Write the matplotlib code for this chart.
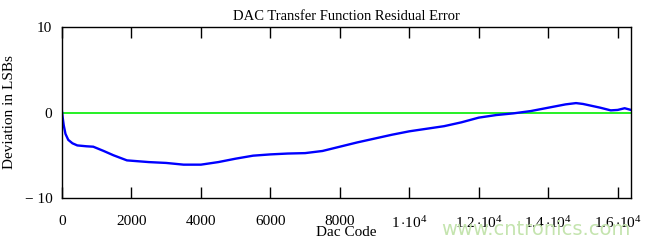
import numpy as np
import matplotlib
matplotlib.use('Agg')
import matplotlib.pyplot as plt

# 读图得到的残差曲线（Dac Code, LSB）
dac_code = [0, 20, 50, 100, 180, 300, 440, 700, 900, 1200, 1480, 1870, 2500, 3000,
            3500, 4000, 4500, 5000, 5500, 6000, 6500, 7000, 7500, 8000, 8500, 9000,
            9500, 10000, 10500, 11000, 11500, 12000, 12500, 13000, 13500, 14000,
            14500, 14800, 15000, 15500, 15800, 16000, 16200, 16383]
deviation = [0.1, -0.6, -1.5, -2.5, -3.2, -3.6, -3.85, -3.95, -4.0, -4.5, -5.0, -5.6,
             -5.8, -5.9, -6.1, -6.1, -5.8, -5.4, -5.05, -4.9, -4.8, -4.75, -4.5, -4.0,
             -3.5, -3.05, -2.6, -2.2, -1.9, -1.6, -1.15, -0.6, -0.3, -0.1, 0.17, 0.56,
             0.95, 1.1, 1.0, 0.56, 0.25, 0.3, 0.5, 0.3]

x_ticks = [0, 2000, 4000, 6000, 8000, 10000, 12000, 14000, 16000]
x_labels = ['0', '2000', '4000', '6000', '8000', r'$1\,{\cdot}10^{4}$',
            r'$1.2\,{\cdot}10^{4}$', r'$1.4\,{\cdot}10^{4}$', r'$1.6\,{\cdot}10^{4}$']
y_ticks = [-10, 0, 10]
y_labels = ['\u2212 10', '0', '10']

plt.rcParams['font.family'] = ['Liberation Serif', 'DejaVu Serif']
plt.rcParams['mathtext.fontset'] = 'custom'
plt.rcParams['mathtext.rm'] = 'Liberation Serif'
plt.rcParams['mathtext.it'] = 'Liberation Serif'

fig = plt.figure(figsize=(6.5, 2.44), dpi=100)
ax = fig.add_axes([62 / 650, 1 - 198 / 244, (631 - 62) / 650, (198 - 27) / 244])

ax.plot(dac_code, deviation, color='#0000ff', lw=1.7)
ax.axhline(0, color='#00ee00', lw=1.2, zorder=1)

ax.set_xlim(0, 16383)
ax.set_ylim(-10, 10)
ax.set_xticks(x_ticks)
ax.set_xticklabels(x_labels)
ax.set_yticks(y_ticks)
ax.set_yticklabels(y_labels)
ax.tick_params(axis='x', direction='in', length=8, width=1, top=True,
               labelsize=11, pad=12)
ax.tick_params(axis='y', length=0, labelsize=11, pad=7)
for s in ax.spines.values():
    s.set_linewidth(1)

ax.set_title('DAC Transfer Function Residual Error', fontsize=10.5, pad=5)
ax.set_xlabel('Dac Code', fontsize=11, labelpad=-3)
ax.set_ylabel('Deviation in LSBs', fontsize=11, labelpad=6)

fig.text(0.97, 0.02, 'www.cntronics.com', color='#c4e4ae', fontsize=14,
         family='DejaVu Sans', ha='right', va='bottom')

fig.savefig('out.png', dpi=100, facecolor='white')
